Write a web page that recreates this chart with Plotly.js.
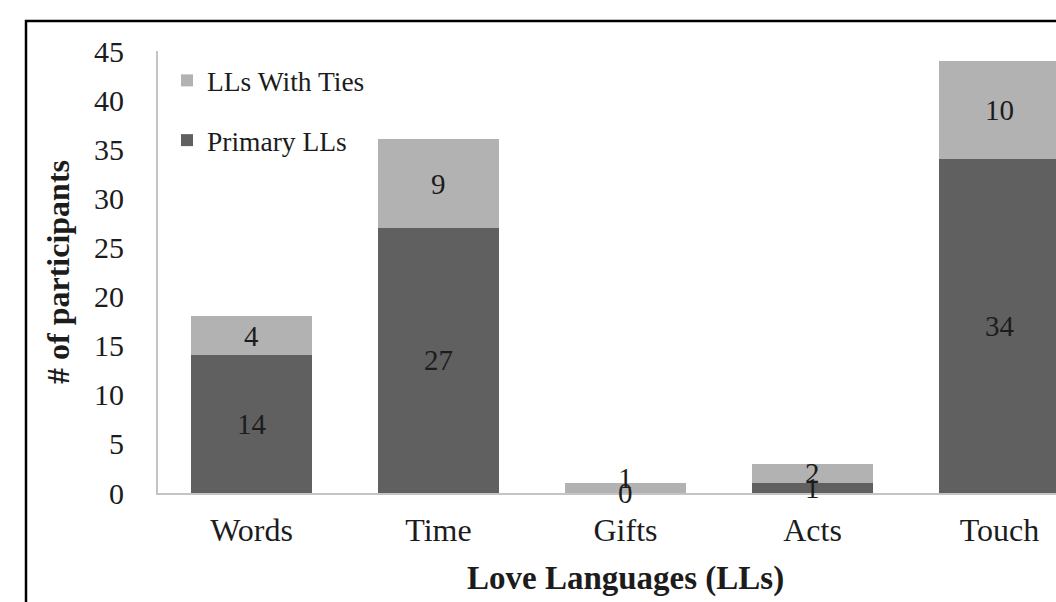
<!DOCTYPE html>
<html>
<head>
<meta charset="utf-8">
<script src="https://cdn.plot.ly/plotly-3.0.1.min.js"></script>
<style>
  html, body { margin: 0; padding: 0; background: #ffffff; overflow: hidden; }
  #chart { width: 1056px; height: 602px; }
</style>
</head>
<body>
<div id="chart"></div>
<script>
// Love language counts per category
const categories = ['Words', 'Time', 'Gifts', 'Acts', 'Touch'];
const primaryLLs = [14, 27, 0, 1, 34];
const llsWithTies = [4, 9, 1, 2, 10];
const yTicks = [0, 5, 10, 15, 20, 25, 30, 35, 40, 45];

const serif = '"Liberation Serif", "Times New Roman", serif';
const darkGray = '#606060';
const lightGray = '#b2b2b2';
const textColor = '#1c1c1c';

// plot box geometry (px), used to convert the frame lines to paper coords
const W = 1056, H = 602;
const M = { l: 158, r: 0, t: 51, b: 109 };
const plotW = W - M.l - M.r, plotH = H - M.t - M.b;
const px = v => (v - M.l) / plotW;
const py = v => (H - M.b - v) / plotH;

const traces = [
  {
    type: 'bar', name: 'Primary LLs', legendgroup: 'p', legendrank: 2,
    x: categories, y: primaryLLs,
    marker: { color: darkGray, line: { width: 0 } },
    hoverinfo: 'skip'
  },
  {
    type: 'bar', name: 'LLs With Ties', legendgroup: 't', legendrank: 1,
    x: categories, y: llsWithTies,
    marker: { color: lightGray, line: { width: 0 } },
    hoverinfo: 'skip'
  }
];

// Segment labels at each segment's middle; a label that would collide
// with the one below it is nudged upward.
const minSep = 1.5;
const annotations = [];
categories.forEach((c, i) => {
  const lowY = primaryLLs[i] / 2;
  let highY = primaryLLs[i] + llsWithTies[i] / 2;
  if (highY - lowY < minSep) highY = lowY + minSep;
  annotations.push({ x: c, y: lowY, text: String(primaryLLs[i]) });
  annotations.push({ x: c, y: highY, text: String(llsWithTies[i]) });
});
annotations.forEach(a => {
  Object.assign(a, {
    xref: 'x', yref: 'y', showarrow: false,
    xanchor: 'center', yanchor: 'middle',
    font: { family: serif, size: 29, color: textColor }
  });
});
// x-axis title, centred on the middle category
annotations.push({
  x: categories[2], xref: 'x', y: py(578), yref: 'paper',
  text: '<b>Love Languages (LLs)</b>', showarrow: false,
  xanchor: 'center', yanchor: 'middle',
  font: { family: serif, size: 33, color: textColor }
});

const layout = {
  width: W, height: H,
  margin: M,
  paper_bgcolor: '#ffffff', plot_bgcolor: '#ffffff',
  barmode: 'stack',
  bargap: 0.353,
  showlegend: true,
  legend: {
    x: px(167), xanchor: 'left',
    y: py(56), yanchor: 'top',
    traceorder: 'grouped',
    tracegroupgap: 21,
    bgcolor: 'rgba(0,0,0,0)',
    font: { family: serif, size: 27.5, color: textColor }
  },
  xaxis: {
    type: 'category',
    range: [-0.5, -0.5 + (W - M.l) / 187],
    autorange: false,
    showline: true, linecolor: '#c4c4c4', linewidth: 2,
    showgrid: false, zeroline: false, ticks: '',
    ticklabelstandoff: 8,
    tickfont: { family: serif, size: 32, color: textColor },
    fixedrange: true
  },
  yaxis: {
    range: [0, 45], autorange: false,
    tickvals: yTicks, ticktext: yTicks.map(String),
    showline: true, linecolor: '#c4c4c4', linewidth: 2,
    showgrid: false, zeroline: false, ticks: '',
    ticklabelstandoff: 26,
    tickfont: { family: serif, size: 30, color: textColor },
    title: {
      text: '<b># of participants</b>', standoff: 15,
      font: { family: serif, size: 32, color: textColor }
    },
    fixedrange: true
  },
  annotations: annotations,
  shapes: [
    {
      type: 'path', xref: 'paper', yref: 'paper',
      path: 'M ' + px(26) + ' ' + py(620) + ' L ' + px(26) + ' ' + py(21) +
            ' L ' + px(1070) + ' ' + py(21),
      line: { color: '#000000', width: 2.5 }
    }
  ]
};

Plotly.newPlot('chart', traces, layout, { displayModeBar: false, staticPlot: true });
</script>
</body>
</html>
